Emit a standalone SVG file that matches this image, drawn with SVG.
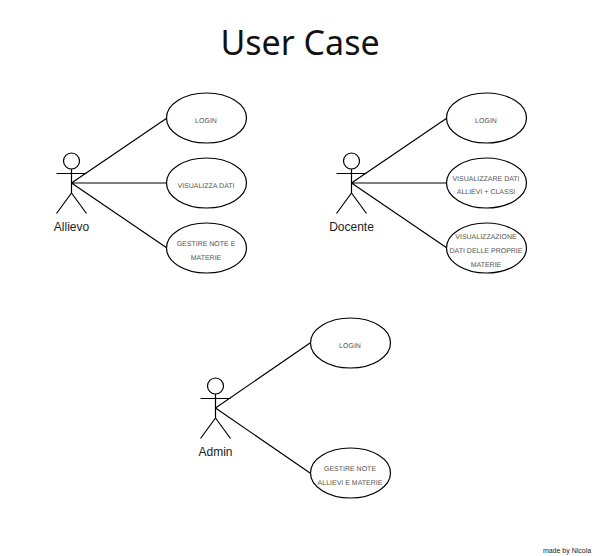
<svg xmlns="http://www.w3.org/2000/svg" width="595" height="556" viewBox="0 0 595 556">
<style>
.b{fill:none;stroke:#000;stroke-width:1.2}
.u{fill:#fff;stroke:#000;stroke-width:1.2}
.l{font-family:"Liberation Sans",Arial,sans-serif;font-size:7px;fill:#555;text-anchor:middle;text-rendering:geometricPrecision}
.a{font-family:"Liberation Sans",Arial,sans-serif;font-size:12px;fill:#222;text-anchor:middle}
</style>
<defs>
<g id="actor"><circle class="b" cx="71.500" cy="161" r="8"/><path class="b" d="M71.500 169V193M56.500 173.500H86.500M71.500 193L56.500 213.500M71.500 193L86.500 213.500"/></g>
</defs>
<rect width="595" height="556" fill="#fff"/>
<text x="300" y="55" font-family="Noto Sans,Open Sans,sans-serif" font-size="34" fill="#111" text-anchor="middle">User Case</text>
<g id="connectors" class="b">
<path d="M71.500 183L167 118M71.500 183H167M71.500 183L167 248"/>
<path d="M351.500 183L447 118M351.500 183H447M351.500 183L447 248"/>
<path d="M215.500 408L310 343M215.500 408L310 473"/>
</g>
<g id="allievo"><use href="#actor"/><text class="a" x="71.500" y="231">Allievo</text></g>
<g id="docente"><use href="#actor" x="280"/><text class="a" x="351.500" y="231">Docente</text></g>
<g id="admin"><use href="#actor" x="144" y="225"/><text class="a" x="215.500" y="456">Admin</text></g>
<g id="a-login"><ellipse class="u" cx="206.500" cy="118" rx="40" ry="25"/><text class="l" x="206" y="122.500">LOGIN</text></g>
<g id="a-dati"><ellipse class="u" cx="206.500" cy="183" rx="40" ry="25"/><text class="l" x="206" y="188">VISUALIZZA DATI</text></g>
<g id="a-note"><ellipse class="u" cx="206.500" cy="248" rx="40" ry="25"/><text class="l" x="206" y="246">GESTIRE NOTE E</text><text class="l" x="206" y="260">MATERIE</text></g>
<g id="d-login"><ellipse class="u" cx="486.500" cy="118" rx="40" ry="25"/><text class="l" x="486" y="122.500">LOGIN</text></g>
<g id="d-dati"><ellipse class="u" cx="486.500" cy="183" rx="40" ry="25"/><text class="l" x="486" y="181">VISUALIZZARE DATI</text><text class="l" x="486" y="194">ALLIEVI + CLASSI</text></g>
<g id="d-materie"><ellipse class="u" cx="486.500" cy="248" rx="40" ry="25"/><text class="l" x="486" y="239">VISUALIZZAZIONE</text><text class="l" x="486" y="253">DATI DELLE PROPRIE</text><text class="l" x="486" y="267">MATERIE</text></g>
<g id="ad-login"><ellipse class="u" cx="350.500" cy="343" rx="40" ry="25"/><text class="l" x="350" y="348">LOGIN</text></g>
<g id="ad-note"><ellipse class="u" cx="350.500" cy="473" rx="40" ry="25"/><text class="l" x="350" y="471">GESTIRE NOTE</text><text class="l" x="350" y="485">ALLIEVI E MATERIE</text></g>
<text x="567" y="553" font-family="Liberation Sans,Arial,sans-serif" font-size="7" fill="#222" text-anchor="middle">made by Nicola</text>
</svg>
